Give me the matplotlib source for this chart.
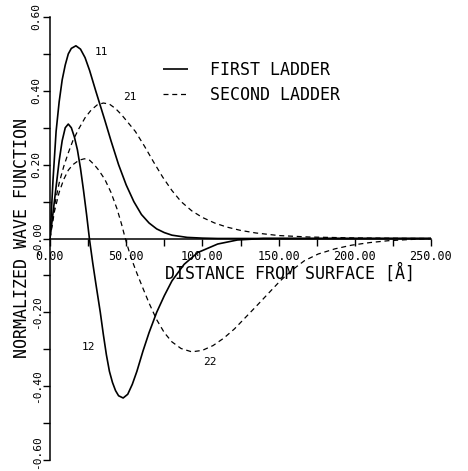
import matplotlib
matplotlib.use("Agg")
import matplotlib.pyplot as plt
import matplotlib.transforms as mtransforms
from matplotlib.lines import Line2D

# Wave functions of the first and second ladders vs. distance from the surface
x11 = [0, 2, 4, 6, 8, 10, 12, 14, 17, 20, 23, 26, 30, 33, 36, 40, 45, 50, 55, 60,
       65, 70, 75, 80, 90, 100, 110, 250]
y11 = [0, 0.16, 0.29, 0.37, 0.43, 0.47, 0.50, 0.515, 0.522, 0.513, 0.49, 0.455,
       0.40, 0.36, 0.32, 0.265, 0.20, 0.145, 0.10, 0.065, 0.042, 0.026, 0.016,
       0.009, 0.003, 0.001, 0.0, 0.0]

x12 = [0, 2, 4, 6, 8, 10, 12, 14, 16, 18, 20, 22, 24, 26, 28, 30, 33, 35, 37, 39,
       41, 43, 45, 48, 51, 54, 57, 61, 65, 70, 75, 80, 88, 97, 110, 123, 140, 250]
y12 = [0, 0.07, 0.14, 0.21, 0.265, 0.30, 0.31, 0.30, 0.275, 0.24, 0.19, 0.13,
       0.065, -0.005, -0.065, -0.12, -0.20, -0.26, -0.315, -0.36, -0.39, -0.412,
       -0.426, -0.432, -0.422, -0.395, -0.36, -0.305, -0.255, -0.20, -0.155,
       -0.115, -0.07, -0.038, -0.015, -0.004, 0.0, 0.0]

x21 = [0, 3, 6, 9, 12, 15, 19, 23, 27, 31, 35, 39, 43, 47, 51, 56, 62, 68, 74, 80,
       86, 93, 100, 108, 116, 125, 135, 150, 170, 200, 230, 250]
y21 = [0, 0.09, 0.15, 0.195, 0.232, 0.265, 0.298, 0.327, 0.348, 0.362, 0.367,
       0.364, 0.352, 0.335, 0.315, 0.29, 0.25, 0.207, 0.166, 0.13, 0.10, 0.075,
       0.057, 0.042, 0.031, 0.022, 0.015, 0.008, 0.004, 0.0015, 0.0005, 0.0]

x22 = [0, 3, 6, 9, 12, 15, 19, 22.6, 26, 29, 32, 36, 40, 44, 47, 49.4, 53, 57, 61,
       65, 70, 75, 80, 86, 93, 100, 107, 114, 121, 128, 135, 143, 151, 159, 167,
       176, 187, 198, 210, 222, 235, 250]
y22 = [0, 0.075, 0.125, 0.16, 0.185, 0.20, 0.212, 0.216, 0.212, 0.20, 0.185,
       0.16, 0.125, 0.08, 0.038, 0.0, -0.05, -0.094, -0.135, -0.175, -0.22,
       -0.255, -0.28, -0.298, -0.307, -0.303, -0.29, -0.27, -0.245, -0.215,
       -0.185, -0.15, -0.115, -0.085, -0.06, -0.042, -0.028, -0.018, -0.011,
       -0.006, -0.003, 0.0]

xticks = [0, 50, 100, 150, 200, 250]
xtick_labels = ["0.00", "50.00", "100.00", "150.00", "200.00", "250.00"]
yticks = [-0.6, -0.4, -0.2, 0.0, 0.2, 0.4, 0.6]
ytick_labels = ["-0.60", "-0.40", "-0.20", "-0.00", "0.20", "0.40", "0.60"]

curve_tags = ["11", "21", "12", "22"]
tag_x = [34, 52.5, 25, 105]
tag_y = [0.505, 0.383, -0.294, -0.335]

MONO = "DejaVu Sans Mono"
SOLID = dict(color="black", lw=1.2, solid_capstyle="butt")
DASHED = dict(color="black", lw=0.9, linestyle=(0, (4.0, 3.0)))

fig = plt.figure(figsize=(4.68, 4.71), dpi=100)
ax = fig.add_axes([50 / 468, 11 / 471, 381 / 468, 443 / 471])

ax.plot(x11, y11, **SOLID)
ax.plot(x12, y12, **SOLID)
ax.plot(x21, y21, **DASHED)
ax.plot(x22, y22, **DASHED)

ax.set_xlim(0, 250)
ax.set_ylim(-0.6, 0.6)

for s in ("top", "right"):
    ax.spines[s].set_visible(False)
ax.spines["bottom"].set_position(("data", 0))
ax.spines["bottom"].set_bounds(0, 250)
for s in ("left", "bottom"):
    ax.spines[s].set_linewidth(1.1)

ax.set_xticks(xticks)
ax.set_xticklabels(xtick_labels, family=MONO, fontsize=8.5)
ax.set_xticks([25, 75, 125, 175, 225], minor=True)
ax.set_yticks(yticks)
ax.set_yticklabels(ytick_labels, family=MONO, fontsize=8.0, rotation=90,
                   va="center")
ax.set_yticks([-0.5, -0.3, -0.1, 0.1, 0.3, 0.5], minor=True)
ax.tick_params(which="both", direction="out", length=5, width=1.0)
ax.tick_params(axis="x", which="major", pad=3)
ax.tick_params(axis="y", which="major", pad=1)

# keep the lowest tick label inside the canvas
lowest = ax.get_yticklabels()[0]
lowest.set_transform(lowest.get_transform() +
                     mtransforms.ScaledTranslation(0, 8 / 100, fig.dpi_scale_trans))

for t, xs, ys in zip(curve_tags, tag_x, tag_y):
    ax.text(xs, ys, t, family=MONO, fontsize=8, ha="center", va="center")

fig.text(290 / 468, 1 - 273 / 471, "DISTANCE FROM SURFACE [Å]", family=MONO,
         fontsize=12, ha="center", va="center")
fig.text(22 / 468, 1 - 238 / 471, "NORMALIZED WAVE FUNCTION", family=MONO,
         fontsize=12, ha="center", va="center", rotation=90)

handles = [Line2D([], [], **SOLID), Line2D([], [], **DASHED)]
ax.legend(handles, ["FIRST LADDER", "SECOND LADDER"], loc="upper left",
          bbox_to_anchor=(0.2966, 0.9), frameon=False, borderpad=0,
          borderaxespad=0, handlelength=1.5, handletextpad=1.3,
          labelspacing=0.38, prop=dict(family=MONO, size=12))

fig.savefig("out.png", dpi=100)
